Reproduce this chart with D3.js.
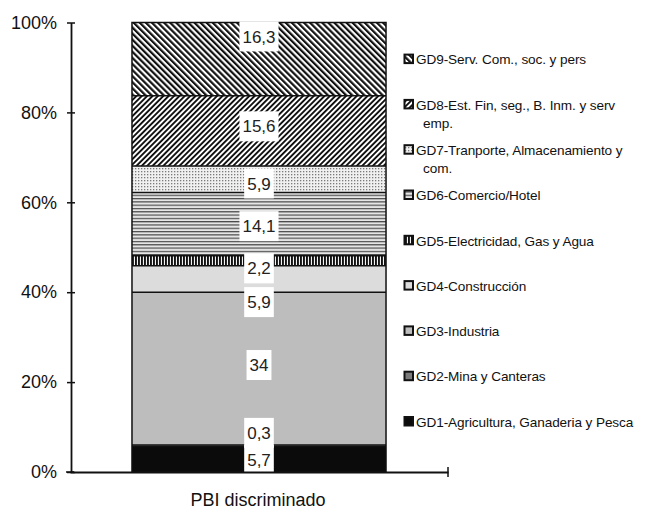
<!DOCTYPE html>
<html>
<head>
<meta charset="utf-8">
<script src="https://cdnjs.cloudflare.com/ajax/libs/d3/7.8.5/d3.min.js"></script>
<style>
  html, body { margin: 0; padding: 0; background: #fff; }
  svg { display: block; font-family: "Liberation Sans", Arial, Helvetica, sans-serif; }
</style>
</head>
<body>
<svg id="chart" width="645" height="511"></svg>
<script>
// ---- Data ----
const category = "PBI discriminado";
const sectors = [
  "GD1-Agricultura, Ganaderia y Pesca",
  "GD2-Mina y Canteras",
  "GD3-Industria",
  "GD4-Construcción",
  "GD5-Electricidad, Gas y Agua",
  "GD6-Comercio/Hotel",
  "GD7-Tranporte, Almacenamiento y|com.",
  "GD8-Est. Fin, seg., B. Inm. y serv|emp.",
  "GD9-Serv. Com., soc. y pers"
];
const values = [5.7, 0.3, 34, 5.9, 2.2, 14.1, 5.9, 15.6, 16.3];
const valueLabels = ["5,7", "0,3", "34", "5,9", "2,2", "14,1", "5,9", "15,6", "16,3"];
const yTicks = [0, 20, 40, 60, 80, 100];

// ---- Layout / style (not data) ----
const labelAt = [2.7, 8.7, 23.8, 37.8, 45.3, 54.7, 64.2, 76.9, 96.9]; // label anchor in % units
const fills = ["#0b0b0b", "#7a7a7a", "#bdbdbd", "#dcdcdc", "url(#pVert)", "url(#pHoriz)", "url(#pDots)", "url(#pFwd)", "url(#pBack)"];

const svg = d3.select("#chart");
const defs = svg.append("defs");

function stripes(id, size, thick, color, bg, rotate) {
  const p = defs.append("pattern").attr("id", id).attr("patternUnits", "userSpaceOnUse")
    .attr("width", size).attr("height", size);
  if (rotate !== undefined) p.attr("patternTransform", `rotate(${rotate})`);
  p.append("rect").attr("width", size).attr("height", size).attr("fill", bg);
  p.append("rect").attr("width", thick).attr("height", size).attr("fill", color);
}
stripes("pBack", 4.3, 2.2, "#111", "#fff", -45);
stripes("pFwd", 3.8, 1.9, "#111", "#fff", 45);
stripes("pVert", 3, 1.9, "#111", "#f2f2f2");
// horizontal lines
{
  const p = defs.append("pattern").attr("id", "pHoriz").attr("patternUnits", "userSpaceOnUse")
    .attr("width", 4).attr("height", 3.3);
  p.append("rect").attr("width", 4).attr("height", 3.3).attr("fill", "#e6e6e6");
  p.append("rect").attr("width", 4).attr("height", 1.2).attr("fill", "#4a4a4a");
}
// dots
{
  const p = defs.append("pattern").attr("id", "pDots").attr("patternUnits", "userSpaceOnUse")
    .attr("width", 3).attr("height", 3);
  p.append("rect").attr("width", 3).attr("height", 3).attr("fill", "#f0f0f0");
  p.append("rect").attr("width", 1.3).attr("height", 1.3).attr("fill", "#7a7a7a");
}

const y = d3.scaleLinear().domain([0, 100]).range([472, 22.5]);
const x = d3.scaleBand().domain([category]).range([70, 448]).paddingInner(0).paddingOuter(0.244);

// stacked segments
let acc = 0;
const segs = values.map((v, i) => { const s = { i, y0: acc, y1: acc + v, v }; acc += v; return s; });

const bar = svg.append("g");
bar.selectAll("rect.seg").data(segs).join("rect")
  .attr("class", "seg")
  .attr("x", x(category))
  .attr("width", x.bandwidth())
  .attr("y", d => y(d.y1))
  .attr("height", d => y(d.y0) - y(d.y1))
  .attr("fill", d => fills[d.i]);
// boundaries
bar.selectAll("line.bd").data(segs.slice(1)).join("line")
  .attr("class", "bd")
  .attr("x1", x(category)).attr("x2", x(category) + x.bandwidth())
  .attr("y1", d => y(d.y0)).attr("y2", d => y(d.y0))
  .attr("stroke", "#111").attr("stroke-width", 1.5);
bar.append("rect")
  .attr("x", x(category)).attr("width", x.bandwidth())
  .attr("y", y(100)).attr("height", y(0) - y(100))
  .attr("fill", "none").attr("stroke", "#111").attr("stroke-width", 1.5);

// value labels
const cx = x(category) + x.bandwidth() / 2;
const lab = svg.append("g");
segs.forEach(d => {
  const g = lab.append("g");
  const t = g.append("text")
    .attr("x", cx).attr("y", y(labelAt[d.i]))
    .attr("dy", "0.36em")
    .attr("text-anchor", "middle")
    .attr("font-size", 17).attr("fill", "#222")
    .text(valueLabels[d.i]);
  const w = t.node().getComputedTextLength();
  g.insert("rect", "text")
    .attr("x", cx - w / 2 - 3).attr("width", w + 6)
    .attr("y", y(labelAt[d.i]) - 15).attr("height", 30)
    .attr("fill", "#fff");
});

// y axis
const yAxis = svg.append("g").attr("transform", `translate(${x.range()[0] + 1},0)`)
  .call(d3.axisLeft(y).tickValues(yTicks).tickFormat(d => d + "%").tickSize(0).tickPadding(14));
yAxis.select(".domain").attr("stroke", "#111").attr("stroke-width", 1.8);
yAxis.selectAll(".tick text").attr("font-size", 18).attr("fill", "#111")
  .attr("font-family", "Liberation Sans, Arial, sans-serif");
yAxis.selectAll(".tick").append("line").attr("x1", -4).attr("x2", 4)
  .attr("stroke", "#111").attr("stroke-width", 1.5);

// x axis
const xAxis = svg.append("g").attr("transform", `translate(0,${y(0)})`)
  .call(d3.axisBottom(x).tickSize(0).tickSizeOuter(0).tickFormat(""));
xAxis.select(".domain").attr("stroke", "#111").attr("stroke-width", 1.8);
xAxis.append("line").attr("x1", x.range()[1]).attr("x2", x.range()[1]).attr("y1", -5).attr("y2", 5)
  .attr("stroke", "#111").attr("stroke-width", 1.5);
xAxis.append("line").attr("x1", x.range()[0] - 4).attr("x2", x.range()[0] + 4).attr("y1", 0).attr("y2", 0)
  .attr("stroke", "#111").attr("stroke-width", 1.5);
svg.append("text").attr("x", cx - 1).attr("y", 506).attr("text-anchor", "middle")
  .attr("font-size", 18).attr("fill", "#111").text(category);

// legend
const leg = svg.append("g");
sectors.forEach((s, i) => {
  const yy = 422 - i * 45.3;
  leg.append("rect").attr("x", 404.5).attr("y", yy - 5).attr("width", 8.5).attr("height", 8.5)
    .attr("fill", fills[i]).attr("stroke", "#111").attr("stroke-width", 2);
  s.split("|").forEach((line, k) => {
    leg.append("text").attr("x", k === 0 ? 416 : 423).attr("y", yy + k * 18)
      .attr("dy", "0.35em").attr("font-size", 13.6).attr("fill", "#111")
      .attr("letter-spacing", -0.1)
      .text(line);
  });
});
</script>
</body>
</html>
